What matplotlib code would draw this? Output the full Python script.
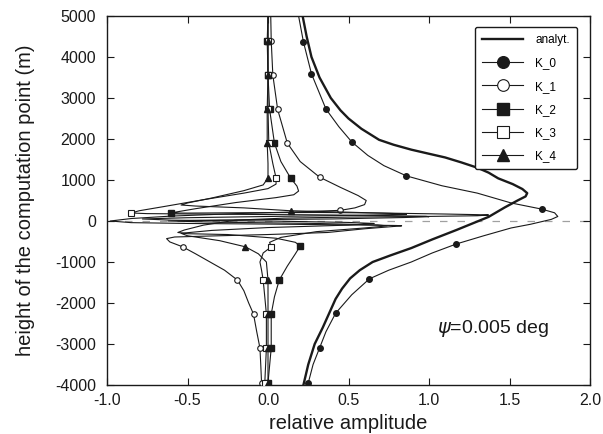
import matplotlib
matplotlib.use('Agg')
import matplotlib.pyplot as plt

plt.rcParams['font.family'] = ['Liberation Sans', 'DejaVu Sans']
plt.rcParams['axes.unicode_minus'] = False

# ---------------- data ----------------
x_ticks = [-1.0, -0.5, 0.0, 0.5, 1.0, 1.5, 2.0]
x_tick_labels = ['-1.0', '-0.5', '0.0', '0.5', '1.0', '1.5', '2.0']
y_ticks = [-4000, -3000, -2000, -1000, 0, 1000, 2000, 3000, 4000, 5000]

series_names = ['analyt.', 'K_0', 'K_1', 'K_2', 'K_3', 'K_4']

analyt_x = [0.215, 0.24, 0.27, 0.32, 0.39, 0.45, 0.50, 0.58, 0.69, 0.78, 0.89, 1.00, 1.10,
            1.20, 1.30, 1.37, 1.43, 1.52, 1.58, 1.61, 1.60, 1.55, 1.47, 1.37, 1.27, 1.17,
            1.02, 0.89, 0.76, 0.65, 0.57, 0.51, 0.46, 0.42, 0.38, 0.34, 0.29, 0.25, 0.22]
analyt_h = [5000, 4500, 4000, 3500, 3000, 2700, 2500, 2250, 1980, 1860, 1740, 1640, 1550,
            1430, 1300, 1180, 1040, 900, 780, 680, 600, 500, 330, 100, -60, -220,
            -450, -660, -840, -1000, -1200, -1400, -1650, -1900, -2250, -2600, -3000, -3500, -4000]

k0_x = [0.19, 0.22, 0.27, 0.36, 0.44, 0.52, 0.62, 0.72, 0.86, 1.08, 1.30, 1.51, 1.70, 1.78,
        1.80, 1.76, 1.63, 1.51, 1.34, 1.17, 1.02, 0.89, 0.75, 0.63, 0.52, 0.42, 0.36, 0.32,
        0.28, 0.25, 0.25]
k0_h = [5000, 4370, 3590, 2730, 2300, 1930, 1600, 1350, 1100, 860, 680, 440, 290, 200,
        110, 40, -80, -170, -360, -560, -780, -1000, -1200, -1410, -1800, -2250, -2700, -3100,
        -3500, -3950, -4000]
k0_marks = [1, 2, 3, 5, 8, 12, 19, 23, 25, 27, 29]

k1_x = [0.017, 0.02, 0.03, 0.06, 0.12, 0.20, 0.32, 0.45, 0.56, 0.61, 0.60, 0.54, 0.45, 0.2,
        -0.2, -0.6, -0.85, -0.98, -0.85, -0.5, 0.0, 0.5, 0.80, 0.83, 0.76, 0.6, 0.37, 0.0,
        -0.35, -0.58, -0.63, -0.61, -0.53, -0.45, -0.36, -0.27, -0.19, -0.15, -0.12, -0.09,
        -0.07, -0.05, -0.045, -0.04, -0.04]
k1_h = [5000, 4400, 3560, 2720, 1900, 1450, 1070, 820, 620, 500, 400, 320, 260, 225,
        180, 120, 60, 0, -40, -60, -75, -95, -110, -118, -140, -190, -280, -330,
        -365, -390, -430, -510, -630, -800, -1000, -1200, -1440, -1700, -2000, -2270,
        -2700, -3100, -3500, -3950, -4000]
k1_marks = [1, 2, 3, 4, 6, 12, 32, 36, 39, 41, 43]

k2_x = [0.0, -0.005, 0.0, 0.01, 0.04, 0.08, 0.14, 0.18, 0.19, 0.16, 0.05, -0.20, -0.45, -0.57,
        -0.60, -0.50, -0.2, 0.3, 0.7, 1.1, 1.30, 1.37, 1.30, 1.0, 0.5, 0.1, -0.2, -0.4,
        -0.52, -0.56, -0.50, -0.25, 0.05, 0.17, 0.20, 0.17, 0.12, 0.07, 0.04, 0.02, 0.02,
        0.0, 0.0]
k2_h = [5000, 4400, 3560, 2720, 1900, 1450, 1050, 850, 730, 640, 570, 450, 300, 220,
        195, 193, 200, 208, 195, 170, 155, 145, 128, 112, 95, 70, 20, -100,
        -220, -280, -310, -330, -420, -520, -610, -800, -1100, -1440, -1850, -2270, -3100,
        -3950, -4000]
k2_marks = [1, 2, 3, 4, 6, 14, 34, 37, 39, 40, 41]

k3_x = [0.0, 0.0, 0.0, 0.0, 0.005, 0.03, 0.05, 0.05, 0.0, -0.15, -0.40, -0.65, -0.80, -0.85,
        -0.75, -0.3, 0.3, 0.75, 0.98, 1.0, 0.85, 0.4, -0.3, -0.62, -0.3, 0.3, 0.68, 0.74,
        0.6, 0.3, 0.08, 0.01, 0.02, -0.03, -0.05, -0.04, -0.03, -0.02, -0.01, -0.01, -0.02,
        -0.02]
k3_h = [5000, 4400, 3560, 2720, 1900, 1400, 1050, 900, 790, 680, 520, 350, 250, 195,
        180, 165, 150, 132, 115, 105, 85, 50, 25, 0, -30, -60, -95, -120,
        -170, -260, -400, -520, -630, -780, -1000, -1200, -1440, -1850, -2270, -3100, -3950,
        -4000]
k3_marks = [1, 2, 3, 4, 6, 13, 32, 36, 38, 39, 40]

k4_x = [0.0, 0.0, 0.0, -0.005, -0.005, 0.0, 0.0, -0.03, -0.15, -0.35, -0.50, -0.54, -0.45, -0.15,
        0.14, 0.5, 0.8, 0.86, 0.6, 0.0, -0.5, -0.78, -0.6, 0.0, 0.5, 0.66, 0.5, 0.0,
        -0.35, -0.54, -0.50, -0.30, -0.14, -0.06, -0.01, 0.0, 0.0, 0.0, 0.0, 0.0]
k4_h = [5000, 4400, 3560, 2720, 1900, 1400, 1050, 880, 740, 560, 440, 390, 365, 320,
        250, 215, 180, 165, 140, 110, 80, 50, 20, 0, -35, -60, -100, -160,
        -230, -300, -360, -480, -630, -800, -1000, -1440, -2270, -3100, -3950, -4000]
k4_marks = [1, 2, 3, 4, 6, 14, 32, 35, 36, 37, 38]

psi_text = r'$\psi$=0.005 deg'
psi_pos = (1.40, -2620)

# ---------------- figure ----------------
fig = plt.figure(figsize=(6.03, 4.34), dpi=100)
ax = fig.add_axes([107 / 603, 1 - 385 / 434, 483 / 603, 369 / 434])

ink = '#1a1a1a'
ax.axhline(0, color='#a0a0a0', lw=0.9, ls=(0, (6, 8)), zorder=1)

thin = 0.8
ms = 4
handles = []
h, = ax.plot(analyt_x, analyt_h, color=ink, lw=1.7, zorder=3)
handles.append(h)
h, = ax.plot(k0_x, k0_h, color=ink, lw=thin, marker='o', ms=ms, markevery=k0_marks,
             mfc=ink, mec=ink, zorder=4)
handles.append(h)
h, = ax.plot(k1_x, k1_h, color=ink, lw=thin, marker='o', ms=ms, markevery=k1_marks,
             mfc='white', mec=ink, mew=0.8, zorder=4)
handles.append(h)
h, = ax.plot(k2_x, k2_h, color=ink, lw=thin, marker='s', ms=ms, markevery=k2_marks,
             mfc=ink, mec=ink, zorder=4)
handles.append(h)
h, = ax.plot(k3_x, k3_h, color=ink, lw=thin, marker='s', ms=ms, markevery=k3_marks,
             mfc='white', mec=ink, mew=0.8, zorder=4)
handles.append(h)
h, = ax.plot(k4_x, k4_h, color=ink, lw=thin, marker='^', ms=ms, markevery=k4_marks,
             mfc=ink, mec=ink, zorder=4)
handles.append(h)

ax.set_xlim(-1.0, 2.0)
ax.set_ylim(-4000, 5000)
ax.set_xticks(x_ticks)
ax.set_xticklabels(x_tick_labels)
ax.set_yticks(y_ticks)
ax.tick_params(direction='in', top=True, right=True, length=5, width=0.8,
               labelsize=11.5, colors=ink)
ax.tick_params(axis='x', pad=6)
ax.tick_params(axis='y', pad=8)
for s in ax.spines.values():
    s.set_linewidth(1.0)
    s.set_color(ink)

ax.set_xlabel('relative amplitude', fontsize=14.5, color=ink, labelpad=4)
ax.set_ylabel('height of the computation point (m)', fontsize=14.5, color=ink, labelpad=14)

ax.text(psi_pos[0], psi_pos[1], psi_text, fontsize=14, color=ink, ha='center', va='center')

leg = ax.legend(handles, series_names, loc='upper right', bbox_to_anchor=(0.973, 0.970),
                borderaxespad=0, fontsize=8.5, markerscale=2.1, handlelength=3.5,
                handletextpad=1.0, labelspacing=0.95, borderpad=0.6, fancybox=True,
                framealpha=1, edgecolor=ink)
leg.get_frame().set_linewidth(1.0)

fig.savefig('out.png', dpi=100)
